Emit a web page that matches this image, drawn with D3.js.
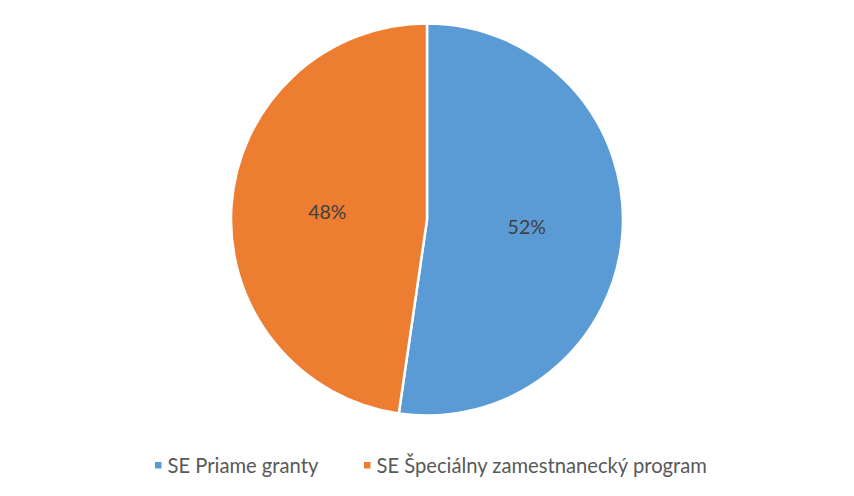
<!DOCTYPE html>
<html><head><meta charset="utf-8">
<script src="https://cdn.jsdelivr.net/npm/d3@7"></script>
<style>body{margin:0;background:#fff}</style>
</head><body>
<svg id="c" width="854" height="496"></svg>
<script>
const categories = ["SE Priame granty", "SE Špeciálny zamestnanecký program"];
const values = [52.3, 47.7];
const colors = ["#5B9BD5", "#ED7D31"];

const svg = d3.select("#c");
const cx = 427, cy = 219.5, r = 196;
const pie = d3.pie().sort(null).value(d => d)(values);
const arc = d3.arc().innerRadius(0).outerRadius(r);
const labelArc = d3.arc().innerRadius(r*0.51).outerRadius(r*0.51);
const total = d3.sum(values);
const g = svg.append("g").attr("transform", `translate(${cx},${cy})`);
g.selectAll("path").data(pie).join("path")
  .attr("d", arc).attr("fill", (d,i)=>colors[i])
  .attr("stroke", "#fff").attr("stroke-width", 2.5).attr("stroke-linejoin","round");
g.selectAll("text").data(pie).join("text")
  .attr("transform", d => { const c = labelArc.centroid(d); return `translate(${c[0]},${c[1]+7})`; })
  .attr("text-anchor","middle")
  .attr("font-family","Lato, 'Open Sans', sans-serif").attr("font-size",19.5)
  .attr("fill","#404040")
  .text(d => Math.round(d.data/total*100) + "%");

const legX = [155, 364];
const lg = svg.append("g");
categories.forEach((c,i)=>{
  lg.append("rect").attr("x", legX[i]).attr("y", 462).attr("width",6.5).attr("height",6.5).attr("fill",colors[i]);
  lg.append("text").attr("x", legX[i]+12.5).attr("y", 473)
    .attr("font-family","Lato, 'Open Sans', sans-serif").attr("font-size",20.2).attr("fill","#595959").text(c);
});
</script>
</body></html>
